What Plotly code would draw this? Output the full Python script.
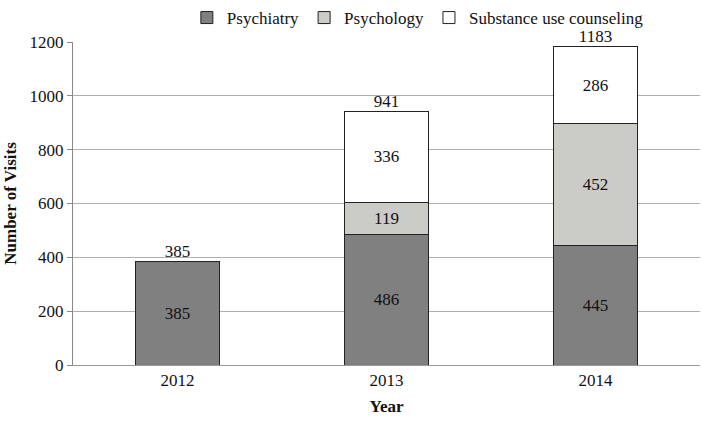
import plotly.graph_objects as go

years = ["2012", "2013", "2014"]
psychiatry = [385, 486, 445]
psychology = [0, 119, 452]
substance = [0, 336, 286]
totals = [385, 941, 1183]

font = "Times New Roman"
fig = go.Figure()

def txt(vals):
    return [str(v) if v > 0 else "" for v in vals]

tf = dict(color="#111111", size=17, family=font)
fig.add_trace(go.Bar(name="Psychiatry", x=years, y=psychiatry, marker=dict(color="#808080", line=dict(color="#222222", width=1)),
                     text=txt(psychiatry), textposition="inside", insidetextanchor="middle", textfont=tf))
fig.add_trace(go.Bar(name="Psychology", x=years, y=psychology, marker=dict(color="#cbcbc8", line=dict(color="#222222", width=1)),
                     text=txt(psychology), textposition="inside", insidetextanchor="middle", textfont=tf))
fig.add_trace(go.Bar(name="Substance use counseling", x=years, y=substance, marker=dict(color="#ffffff", line=dict(color="#222222", width=1)),
                     text=txt(substance), textposition="inside", insidetextanchor="middle", textfont=tf))
fig.add_trace(go.Scatter(x=years, y=totals, mode="text", text=[str(t) for t in totals], textposition="top center",
                         textfont=tf, showlegend=False, hoverinfo="skip", cliponaxis=False))

fig.update_layout(
    barmode="stack", bargap=0.6,
    width=702, height=421,
    margin=dict(l=73, r=2, t=42, b=56, autoexpand=False),
    paper_bgcolor="white", plot_bgcolor="white",
    font=dict(family=font, size=17, color="#111111"),
    legend=dict(orientation="h", x=0.55, xanchor="center", y=1.0, yanchor="top", yref="container",
                bgcolor="rgba(0,0,0,0)", font=dict(size=17, family=font, color="#111111"), traceorder="normal"),
    showlegend=True,
)
fig.update_yaxes(range=[0, 1200], dtick=200, showgrid=True, gridcolor="#b0b0b0", gridwidth=1,
                 showline=True, linecolor="#888888", ticks="outside", tickcolor="#888888", ticklen=5,
                 tickfont=dict(family=font, size=17, color="#111111"),
                 title=dict(text="<b>Number of Visits</b>", font=dict(size=17, family=font, color="#111111"), standoff=8), zeroline=False)
fig.update_xaxes(showline=True, linecolor="#999999", ticks="", tickfont=dict(family=font, size=17, color="#111111"),
                 title=dict(text="<b>Year</b>", font=dict(size=17, family=font, color="#111111"), standoff=10))

fig.write_html("out.html", post_script="document.body.style.margin='0';", config={"displayModeBar": False})
